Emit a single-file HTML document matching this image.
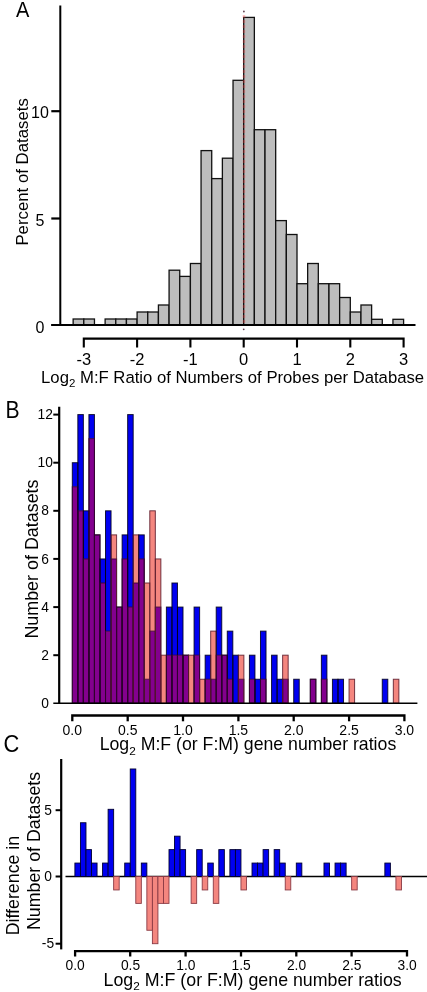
<!DOCTYPE html>
<html><head><meta charset="utf-8"><title>Figure</title>
<style>html,body{margin:0;padding:0;background:#fff;}body{width:427px;height:992px;overflow:hidden;font-family:"Liberation Sans", sans-serif;}svg{display:block;}</style>
</head><body>
<svg width="427" height="992" viewBox="0 0 427 992"><g fill="#bdbdbd" stroke="#111" stroke-width="1.3"><rect x="73.14" y="319.00" width="10.66" height="6.00"/><rect x="83.80" y="319.00" width="10.66" height="6.00"/><rect x="105.12" y="319.00" width="10.66" height="6.00"/><rect x="115.78" y="319.00" width="10.66" height="6.00"/><rect x="126.44" y="319.00" width="10.66" height="6.00"/><rect x="137.10" y="312.00" width="10.66" height="13.00"/><rect x="147.76" y="312.00" width="10.66" height="13.00"/><rect x="158.42" y="305.00" width="10.66" height="20.00"/><rect x="169.08" y="270.20" width="10.66" height="54.80"/><rect x="179.74" y="276.40" width="10.66" height="48.60"/><rect x="190.40" y="263.50" width="10.66" height="61.50"/><rect x="201.06" y="150.60" width="10.66" height="174.40"/><rect x="211.72" y="178.60" width="10.66" height="146.40"/><rect x="222.38" y="158.20" width="10.66" height="166.80"/><rect x="233.04" y="80.30" width="10.66" height="244.70"/><rect x="243.70" y="17.40" width="10.66" height="307.60"/><rect x="254.36" y="129.70" width="10.66" height="195.30"/><rect x="265.02" y="129.70" width="10.66" height="195.30"/><rect x="275.68" y="220.60" width="10.66" height="104.40"/><rect x="286.34" y="234.50" width="10.66" height="90.50"/><rect x="297.00" y="283.70" width="10.66" height="41.30"/><rect x="307.66" y="263.50" width="10.66" height="61.50"/><rect x="318.32" y="283.70" width="10.66" height="41.30"/><rect x="328.98" y="283.70" width="10.66" height="41.30"/><rect x="339.64" y="297.50" width="10.66" height="27.50"/><rect x="350.30" y="312.00" width="10.66" height="13.00"/><rect x="360.96" y="305.00" width="10.66" height="20.00"/><rect x="371.62" y="319.30" width="10.66" height="5.70"/><rect x="392.94" y="319.30" width="10.66" height="5.70"/></g><line x1="244.0" y1="15" x2="244.0" y2="324" stroke="#ff3a3a" stroke-width="2.6" stroke-dasharray="3 2" opacity="0.3"/><circle cx="243.9" cy="11.5" r="0.9" fill="#604050"/><circle cx="243.7" cy="329.3" r="0.9" fill="#604050"/><line x1="51.1" y1="325.0" x2="415.5" y2="325.0" stroke="#000" stroke-width="2"/><line x1="60.3" y1="5.4" x2="60.3" y2="326" stroke="#000" stroke-width="2"/><line x1="51.3" y1="111.2" x2="60.3" y2="111.2" stroke="#000" stroke-width="2.2"/><line x1="51.3" y1="218.5" x2="60.3" y2="218.5" stroke="#000" stroke-width="2.2"/><path d="M83.8 347.5 V338.6 H403.6 V347.5" fill="none" stroke="#000" stroke-width="2.1"/><line x1="137.1" y1="338.6" x2="137.1" y2="347.5" stroke="#000" stroke-width="2.1"/><line x1="190.4" y1="338.6" x2="190.4" y2="347.5" stroke="#000" stroke-width="2.1"/><line x1="243.7" y1="338.6" x2="243.7" y2="347.5" stroke="#000" stroke-width="2.1"/><line x1="297.0" y1="338.6" x2="297.0" y2="347.5" stroke="#000" stroke-width="2.1"/><line x1="350.3" y1="338.6" x2="350.3" y2="347.5" stroke="#000" stroke-width="2.1"/><g><rect x="72.30" y="486.76" width="5.54" height="216.54" fill="#83008e"/><rect x="72.30" y="462.70" width="5.54" height="24.06" fill="#0000f0"/><rect x="77.83" y="510.82" width="5.54" height="192.48" fill="#83008e"/><rect x="77.83" y="414.58" width="5.54" height="96.24" fill="#0000f0"/><rect x="83.37" y="558.94" width="5.54" height="144.36" fill="#83008e"/><rect x="83.37" y="510.82" width="5.54" height="48.12" fill="#0000f0"/><rect x="88.91" y="438.64" width="5.54" height="264.66" fill="#83008e"/><rect x="88.91" y="414.58" width="5.54" height="24.06" fill="#0000f0"/><rect x="94.44" y="534.88" width="5.54" height="168.42" fill="#83008e"/><rect x="99.97" y="583.00" width="5.54" height="120.30" fill="#83008e"/><rect x="99.97" y="558.94" width="5.54" height="24.06" fill="#0000f0"/><rect x="105.51" y="631.12" width="5.54" height="72.18" fill="#83008e"/><rect x="105.51" y="510.82" width="5.54" height="120.30" fill="#0000f0"/><rect x="111.05" y="558.94" width="5.54" height="144.36" fill="#83008e"/><rect x="111.05" y="534.88" width="5.54" height="24.06" fill="#f4867f"/><rect x="116.58" y="607.06" width="5.54" height="96.24" fill="#83008e"/><rect x="122.11" y="558.94" width="5.54" height="144.36" fill="#83008e"/><rect x="122.11" y="534.88" width="5.54" height="24.06" fill="#0000f0"/><rect x="127.65" y="607.06" width="5.54" height="96.24" fill="#83008e"/><rect x="127.65" y="414.58" width="5.54" height="192.48" fill="#0000f0"/><rect x="133.19" y="583.00" width="5.54" height="120.30" fill="#83008e"/><rect x="133.19" y="534.88" width="5.54" height="48.12" fill="#f4867f"/><rect x="138.72" y="558.94" width="5.54" height="144.36" fill="#83008e"/><rect x="138.72" y="534.88" width="5.54" height="24.06" fill="#0000f0"/><rect x="144.25" y="679.24" width="5.54" height="24.06" fill="#83008e"/><rect x="144.25" y="583.00" width="5.54" height="96.24" fill="#f4867f"/><rect x="149.79" y="631.12" width="5.54" height="72.18" fill="#83008e"/><rect x="149.79" y="510.82" width="5.54" height="120.30" fill="#f4867f"/><rect x="155.32" y="607.06" width="5.54" height="96.24" fill="#83008e"/><rect x="155.32" y="558.94" width="5.54" height="48.12" fill="#f4867f"/><rect x="160.86" y="655.18" width="5.54" height="48.12" fill="#f4867f"/><rect x="166.39" y="655.18" width="5.54" height="48.12" fill="#83008e"/><rect x="166.39" y="607.06" width="5.54" height="48.12" fill="#0000f0"/><rect x="171.93" y="655.18" width="5.54" height="48.12" fill="#83008e"/><rect x="171.93" y="583.00" width="5.54" height="72.18" fill="#0000f0"/><rect x="177.47" y="655.18" width="5.54" height="48.12" fill="#83008e"/><rect x="177.47" y="607.06" width="5.54" height="48.12" fill="#0000f0"/><rect x="183.00" y="655.18" width="5.54" height="48.12" fill="#83008e"/><rect x="188.53" y="655.18" width="5.54" height="48.12" fill="#f4867f"/><rect x="194.07" y="655.18" width="5.54" height="48.12" fill="#83008e"/><rect x="194.07" y="607.06" width="5.54" height="48.12" fill="#0000f0"/><rect x="199.61" y="679.24" width="5.54" height="24.06" fill="#f4867f"/><rect x="205.14" y="679.24" width="5.54" height="24.06" fill="#83008e"/><rect x="205.14" y="655.18" width="5.54" height="24.06" fill="#0000f0"/><rect x="210.68" y="679.24" width="5.54" height="24.06" fill="#83008e"/><rect x="210.68" y="631.12" width="5.54" height="48.12" fill="#f4867f"/><rect x="216.21" y="655.18" width="5.54" height="48.12" fill="#83008e"/><rect x="216.21" y="607.06" width="5.54" height="48.12" fill="#0000f0"/><rect x="221.75" y="655.18" width="5.54" height="48.12" fill="#83008e"/><rect x="227.28" y="679.24" width="5.54" height="24.06" fill="#83008e"/><rect x="227.28" y="631.12" width="5.54" height="48.12" fill="#0000f0"/><rect x="232.81" y="655.18" width="5.54" height="48.12" fill="#0000f0"/><rect x="238.35" y="679.24" width="5.54" height="24.06" fill="#83008e"/><rect x="238.35" y="655.18" width="5.54" height="24.06" fill="#f4867f"/><rect x="249.42" y="679.24" width="5.54" height="24.06" fill="#83008e"/><rect x="249.42" y="655.18" width="5.54" height="24.06" fill="#0000f0"/><rect x="254.95" y="679.24" width="5.54" height="24.06" fill="#0000f0"/><rect x="260.49" y="679.24" width="5.54" height="24.06" fill="#83008e"/><rect x="260.49" y="631.12" width="5.54" height="48.12" fill="#0000f0"/><rect x="271.56" y="655.18" width="5.54" height="48.12" fill="#0000f0"/><rect x="277.10" y="679.24" width="5.54" height="24.06" fill="#0000f0"/><rect x="282.63" y="679.24" width="5.54" height="24.06" fill="#83008e"/><rect x="282.63" y="655.18" width="5.54" height="24.06" fill="#f4867f"/><rect x="293.70" y="679.24" width="5.54" height="24.06" fill="#0000f0"/><rect x="310.31" y="679.24" width="5.54" height="24.06" fill="#83008e"/><rect x="321.38" y="679.24" width="5.54" height="24.06" fill="#83008e"/><rect x="321.38" y="655.18" width="5.54" height="24.06" fill="#0000f0"/><rect x="332.44" y="679.24" width="5.54" height="24.06" fill="#0000f0"/><rect x="337.98" y="679.24" width="5.54" height="24.06" fill="#0000f0"/><rect x="349.05" y="679.24" width="5.54" height="24.06" fill="#f4867f"/><rect x="382.26" y="679.24" width="5.54" height="24.06" fill="#0000f0"/><rect x="393.33" y="679.24" width="5.54" height="24.06" fill="#f4867f"/></g><g fill="none" stroke-width="1" stroke-opacity="0.85"><rect x="72.30" y="462.70" width="5.54" height="240.60" stroke="#000018"/><rect x="72.30" y="486.76" width="5.54" height="216.54" stroke="#3a0030"/><rect x="77.83" y="414.58" width="5.54" height="288.72" stroke="#000018"/><rect x="77.83" y="510.82" width="5.54" height="192.48" stroke="#3a0030"/><rect x="83.37" y="510.82" width="5.54" height="192.48" stroke="#000018"/><rect x="83.37" y="558.94" width="5.54" height="144.36" stroke="#3a0030"/><rect x="88.91" y="414.58" width="5.54" height="288.72" stroke="#000018"/><rect x="88.91" y="438.64" width="5.54" height="264.66" stroke="#3a0030"/><rect x="94.44" y="534.88" width="5.54" height="168.42" stroke="#000018"/><rect x="94.44" y="534.88" width="5.54" height="168.42" stroke="#3a0030"/><rect x="99.97" y="558.94" width="5.54" height="144.36" stroke="#000018"/><rect x="99.97" y="583.00" width="5.54" height="120.30" stroke="#3a0030"/><rect x="105.51" y="510.82" width="5.54" height="192.48" stroke="#000018"/><rect x="105.51" y="631.12" width="5.54" height="72.18" stroke="#3a0030"/><rect x="111.05" y="558.94" width="5.54" height="144.36" stroke="#3a0030"/><rect x="111.05" y="534.88" width="5.54" height="168.42" stroke="#5a1a2a"/><rect x="116.58" y="607.06" width="5.54" height="96.24" stroke="#000018"/><rect x="116.58" y="607.06" width="5.54" height="96.24" stroke="#3a0030"/><rect x="122.11" y="534.88" width="5.54" height="168.42" stroke="#000018"/><rect x="122.11" y="558.94" width="5.54" height="144.36" stroke="#3a0030"/><rect x="127.65" y="414.58" width="5.54" height="288.72" stroke="#000018"/><rect x="127.65" y="607.06" width="5.54" height="96.24" stroke="#3a0030"/><rect x="133.19" y="583.00" width="5.54" height="120.30" stroke="#3a0030"/><rect x="133.19" y="534.88" width="5.54" height="168.42" stroke="#5a1a2a"/><rect x="138.72" y="534.88" width="5.54" height="168.42" stroke="#000018"/><rect x="138.72" y="558.94" width="5.54" height="144.36" stroke="#3a0030"/><rect x="144.25" y="679.24" width="5.54" height="24.06" stroke="#3a0030"/><rect x="144.25" y="583.00" width="5.54" height="120.30" stroke="#5a1a2a"/><rect x="149.79" y="631.12" width="5.54" height="72.18" stroke="#3a0030"/><rect x="149.79" y="510.82" width="5.54" height="192.48" stroke="#5a1a2a"/><rect x="155.32" y="607.06" width="5.54" height="96.24" stroke="#3a0030"/><rect x="155.32" y="558.94" width="5.54" height="144.36" stroke="#5a1a2a"/><rect x="160.86" y="655.18" width="5.54" height="48.12" stroke="#5a1a2a"/><rect x="166.39" y="607.06" width="5.54" height="96.24" stroke="#000018"/><rect x="166.39" y="655.18" width="5.54" height="48.12" stroke="#3a0030"/><rect x="171.93" y="583.00" width="5.54" height="120.30" stroke="#000018"/><rect x="171.93" y="655.18" width="5.54" height="48.12" stroke="#3a0030"/><rect x="177.47" y="607.06" width="5.54" height="96.24" stroke="#000018"/><rect x="177.47" y="655.18" width="5.54" height="48.12" stroke="#3a0030"/><rect x="183.00" y="655.18" width="5.54" height="48.12" stroke="#000018"/><rect x="183.00" y="655.18" width="5.54" height="48.12" stroke="#3a0030"/><rect x="188.53" y="655.18" width="5.54" height="48.12" stroke="#5a1a2a"/><rect x="194.07" y="607.06" width="5.54" height="96.24" stroke="#000018"/><rect x="194.07" y="655.18" width="5.54" height="48.12" stroke="#3a0030"/><rect x="199.61" y="679.24" width="5.54" height="24.06" stroke="#5a1a2a"/><rect x="205.14" y="655.18" width="5.54" height="48.12" stroke="#000018"/><rect x="205.14" y="679.24" width="5.54" height="24.06" stroke="#3a0030"/><rect x="210.68" y="679.24" width="5.54" height="24.06" stroke="#3a0030"/><rect x="210.68" y="631.12" width="5.54" height="72.18" stroke="#5a1a2a"/><rect x="216.21" y="607.06" width="5.54" height="96.24" stroke="#000018"/><rect x="216.21" y="655.18" width="5.54" height="48.12" stroke="#3a0030"/><rect x="221.75" y="655.18" width="5.54" height="48.12" stroke="#000018"/><rect x="221.75" y="655.18" width="5.54" height="48.12" stroke="#3a0030"/><rect x="227.28" y="631.12" width="5.54" height="72.18" stroke="#000018"/><rect x="227.28" y="679.24" width="5.54" height="24.06" stroke="#3a0030"/><rect x="232.81" y="655.18" width="5.54" height="48.12" stroke="#000018"/><rect x="238.35" y="679.24" width="5.54" height="24.06" stroke="#3a0030"/><rect x="238.35" y="655.18" width="5.54" height="48.12" stroke="#5a1a2a"/><rect x="249.42" y="655.18" width="5.54" height="48.12" stroke="#000018"/><rect x="249.42" y="679.24" width="5.54" height="24.06" stroke="#3a0030"/><rect x="254.95" y="679.24" width="5.54" height="24.06" stroke="#000018"/><rect x="260.49" y="631.12" width="5.54" height="72.18" stroke="#000018"/><rect x="260.49" y="679.24" width="5.54" height="24.06" stroke="#3a0030"/><rect x="271.56" y="655.18" width="5.54" height="48.12" stroke="#000018"/><rect x="277.10" y="679.24" width="5.54" height="24.06" stroke="#000018"/><rect x="282.63" y="679.24" width="5.54" height="24.06" stroke="#3a0030"/><rect x="282.63" y="655.18" width="5.54" height="48.12" stroke="#5a1a2a"/><rect x="293.70" y="679.24" width="5.54" height="24.06" stroke="#000018"/><rect x="310.31" y="679.24" width="5.54" height="24.06" stroke="#000018"/><rect x="310.31" y="679.24" width="5.54" height="24.06" stroke="#3a0030"/><rect x="321.38" y="655.18" width="5.54" height="48.12" stroke="#000018"/><rect x="321.38" y="679.24" width="5.54" height="24.06" stroke="#3a0030"/><rect x="332.44" y="679.24" width="5.54" height="24.06" stroke="#000018"/><rect x="337.98" y="679.24" width="5.54" height="24.06" stroke="#000018"/><rect x="349.05" y="679.24" width="5.54" height="24.06" stroke="#5a1a2a"/><rect x="382.26" y="679.24" width="5.54" height="24.06" stroke="#000018"/><rect x="393.33" y="679.24" width="5.54" height="24.06" stroke="#5a1a2a"/></g><line x1="53.3" y1="703.3" x2="417.4" y2="703.3" stroke="#000" stroke-width="1.4"/><line x1="59.2" y1="406.8" x2="59.2" y2="704.0999999999999" stroke="#000" stroke-width="2.2"/><line x1="53.3" y1="655.2" x2="59.2" y2="655.2" stroke="#000" stroke-width="2"/><line x1="53.3" y1="607.1" x2="59.2" y2="607.1" stroke="#000" stroke-width="2"/><line x1="53.3" y1="558.9" x2="59.2" y2="558.9" stroke="#000" stroke-width="2"/><line x1="53.3" y1="510.8" x2="59.2" y2="510.8" stroke="#000" stroke-width="2"/><line x1="53.3" y1="462.7" x2="59.2" y2="462.7" stroke="#000" stroke-width="2"/><line x1="53.3" y1="414.6" x2="59.2" y2="414.6" stroke="#000" stroke-width="2"/><path d="M72.3 721.3 V715.5 H404.4 V721.3" fill="none" stroke="#000" stroke-width="2.3"/><line x1="127.7" y1="715.5" x2="127.7" y2="721.3" stroke="#000" stroke-width="2.3"/><line x1="183.0" y1="715.5" x2="183.0" y2="721.3" stroke="#000" stroke-width="2.3"/><line x1="238.4" y1="715.5" x2="238.4" y2="721.3" stroke="#000" stroke-width="2.3"/><line x1="293.7" y1="715.5" x2="293.7" y2="721.3" stroke="#000" stroke-width="2.3"/><line x1="349.1" y1="715.5" x2="349.1" y2="721.3" stroke="#000" stroke-width="2.3"/><line x1="65.5" y1="876.5" x2="427" y2="876.5" stroke="#000" stroke-width="1.4"/><g fill="#0000f0" stroke="#000030" stroke-width="0.9"><rect x="74.90" y="863.06" width="5.54" height="13.44"/><rect x="80.44" y="822.74" width="5.54" height="53.76"/><rect x="85.97" y="849.62" width="5.54" height="26.88"/><rect x="91.51" y="863.06" width="5.54" height="13.44"/><rect x="102.58" y="863.06" width="5.54" height="13.44"/><rect x="108.11" y="809.30" width="5.54" height="67.20"/><rect x="124.72" y="863.06" width="5.54" height="13.44"/><rect x="130.25" y="768.98" width="5.54" height="107.52"/><rect x="141.32" y="863.06" width="5.54" height="13.44"/><rect x="169.00" y="849.62" width="5.54" height="26.88"/><rect x="174.53" y="836.18" width="5.54" height="40.32"/><rect x="180.06" y="849.62" width="5.54" height="26.88"/><rect x="196.67" y="849.62" width="5.54" height="26.88"/><rect x="207.74" y="863.06" width="5.54" height="13.44"/><rect x="218.81" y="849.62" width="5.54" height="26.88"/><rect x="229.88" y="849.62" width="5.54" height="26.88"/><rect x="235.42" y="849.62" width="5.54" height="26.88"/><rect x="252.02" y="863.06" width="5.54" height="13.44"/><rect x="257.56" y="863.06" width="5.54" height="13.44"/><rect x="263.09" y="849.62" width="5.54" height="26.88"/><rect x="274.16" y="849.62" width="5.54" height="26.88"/><rect x="279.70" y="863.06" width="5.54" height="13.44"/><rect x="296.30" y="863.06" width="5.54" height="13.44"/><rect x="323.98" y="863.06" width="5.54" height="13.44"/><rect x="335.04" y="863.06" width="5.54" height="13.44"/><rect x="340.58" y="863.06" width="5.54" height="13.44"/><rect x="384.86" y="863.06" width="5.54" height="13.44"/></g><g fill="#f4867f" stroke="#8a3a44" stroke-width="0.9"><rect x="113.65" y="876.50" width="5.54" height="13.44"/><rect x="135.79" y="876.50" width="5.54" height="26.88"/><rect x="146.86" y="876.50" width="5.54" height="53.76"/><rect x="152.39" y="876.50" width="5.54" height="67.20"/><rect x="157.93" y="876.50" width="5.54" height="26.88"/><rect x="163.46" y="876.50" width="5.54" height="26.88"/><rect x="191.13" y="876.50" width="5.54" height="26.88"/><rect x="202.21" y="876.50" width="5.54" height="13.44"/><rect x="213.28" y="876.50" width="5.54" height="26.88"/><rect x="240.95" y="876.50" width="5.54" height="13.44"/><rect x="285.23" y="876.50" width="5.54" height="13.44"/><rect x="351.65" y="876.50" width="5.54" height="13.44"/><rect x="395.93" y="876.50" width="5.54" height="13.44"/></g><line x1="61.2" y1="759" x2="61.2" y2="949.4" stroke="#000" stroke-width="2.2"/><line x1="55.6" y1="810.2" x2="61.2" y2="810.2" stroke="#000" stroke-width="2"/><line x1="55.6" y1="876.5" x2="61.2" y2="876.5" stroke="#000" stroke-width="2"/><line x1="55.6" y1="943.7" x2="61.2" y2="943.7" stroke="#000" stroke-width="2"/><path d="M75.1 956.5 V951.2 H407.0 V956.5" fill="none" stroke="#000" stroke-width="2.3"/><line x1="130.2" y1="951.2" x2="130.2" y2="956.5" stroke="#000" stroke-width="2.3"/><line x1="185.6" y1="951.2" x2="185.6" y2="956.5" stroke="#000" stroke-width="2.3"/><line x1="241.0" y1="951.2" x2="241.0" y2="956.5" stroke="#000" stroke-width="2.3"/><line x1="296.3" y1="951.2" x2="296.3" y2="956.5" stroke="#000" stroke-width="2.3"/><line x1="351.6" y1="951.2" x2="351.6" y2="956.5" stroke="#000" stroke-width="2.3"/><g font-family='"Liberation Sans", sans-serif' fill="#000" opacity="0.999"><text transform="translate(16.0,17.0) scale(0.89,1)" font-size="22.5">A</text><text transform="translate(5.4,417.6) scale(0.9,1)" font-size="23.5">B</text><text transform="translate(3.6,752.3) scale(0.93,1)" font-size="23.5">C</text><text x="40" y="118.3" font-size="16" text-anchor="middle" >10</text><text x="40" y="225.9" font-size="16" text-anchor="middle" >5</text><text x="40" y="332.6" font-size="16" text-anchor="middle" >0</text><text transform="translate(28.1,245.6) rotate(-90)" font-size="16.8">Percent of Datasets</text><text x="83.8" y="365.2" font-size="16.5" text-anchor="middle" >-3</text><text x="137.1" y="365.2" font-size="16.5" text-anchor="middle" >-2</text><text x="190.4" y="365.2" font-size="16.5" text-anchor="middle" >-1</text><text x="243.7" y="365.2" font-size="16.5" text-anchor="middle" >0</text><text x="297.0" y="365.2" font-size="16.5" text-anchor="middle" >1</text><text x="350.3" y="365.2" font-size="16.5" text-anchor="middle" >2</text><text x="403.6" y="365.2" font-size="16.5" text-anchor="middle" >3</text><text x="41.1" y="382.8" font-size="16.7">Log<tspan font-size="11.5" dy="3.8">2</tspan><tspan dy="-3.8"> M:F Ratio of Numbers of Probes per Database</tspan></text><text x="45.2" y="707.9" font-size="13.8" text-anchor="middle" >0</text><text x="45.2" y="659.8" font-size="13.8" text-anchor="middle" >2</text><text x="45.2" y="611.7" font-size="13.8" text-anchor="middle" >4</text><text x="45.2" y="563.5" font-size="13.8" text-anchor="middle" >6</text><text x="45.2" y="515.4" font-size="13.8" text-anchor="middle" >8</text><text x="45.2" y="467.3" font-size="13.8" text-anchor="middle" >10</text><text x="45.2" y="419.2" font-size="13.8" text-anchor="middle" >12</text><text transform="translate(37.6,638.6) rotate(-90)" font-size="17.9">Number of Datasets</text><text x="72.3" y="734.6" font-size="14" text-anchor="middle" >0.0</text><text x="127.7" y="734.6" font-size="14" text-anchor="middle" >0.5</text><text x="183.0" y="734.6" font-size="14" text-anchor="middle" >1.0</text><text x="238.4" y="734.6" font-size="14" text-anchor="middle" >1.5</text><text x="293.7" y="734.6" font-size="14" text-anchor="middle" >2.0</text><text x="349.1" y="734.6" font-size="14" text-anchor="middle" >2.5</text><text x="404.4" y="734.6" font-size="14" text-anchor="middle" >3.0</text><text x="99.7" y="750.3" font-size="17.7">Log<tspan font-size="11.8" dy="5">2</tspan><tspan dy="-5"> M:F (or F:M) gene number ratios</tspan></text><text x="48" y="815.0" font-size="13.8" text-anchor="middle" >5</text><text x="48" y="881.3" font-size="13.8" text-anchor="middle" >0</text><text x="48" y="948.1" font-size="13.8" text-anchor="middle" >-5</text><text transform="translate(19.0,935.3) rotate(-90)" font-size="17.8">Difference in</text><text transform="translate(40.4,930) rotate(-90)" font-size="17.8">Number of Datasets</text><text x="75.1" y="969.6" font-size="13.8" text-anchor="middle" >0.0</text><text x="130.5" y="969.6" font-size="13.8" text-anchor="middle" >0.5</text><text x="185.8" y="969.6" font-size="13.8" text-anchor="middle" >1.0</text><text x="241.2" y="969.6" font-size="13.8" text-anchor="middle" >1.5</text><text x="296.5" y="969.6" font-size="13.8" text-anchor="middle" >2.0</text><text x="351.9" y="969.6" font-size="13.8" text-anchor="middle" >2.5</text><text x="407.2" y="969.6" font-size="13.8" text-anchor="middle" >3.0</text><text x="103.6" y="985.9" font-size="17.8">Log<tspan font-size="11.8" dy="4.5">2</tspan><tspan dy="-4.5"> M:F (or F:M) gene number ratios</tspan></text></g></svg>
</body></html>
